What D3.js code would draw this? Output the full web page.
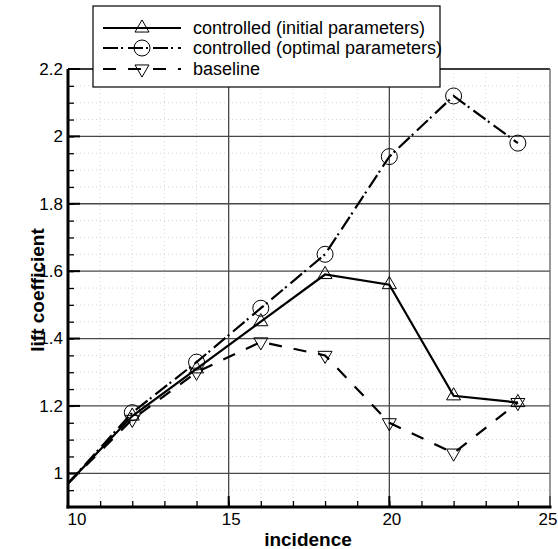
<!DOCTYPE html>
<html><head><meta charset="utf-8">
<script src="https://cdn.jsdelivr.net/npm/d3@7"></script>
<style>body{margin:0;background:#fff}svg{display:block}text{font-family:"Liberation Sans",Arial,sans-serif}</style>
</head><body><svg id="c" width="558" height="549"></svg>
<script>
const incidence = [10, 12, 14, 16, 18, 20, 22, 24];
const initialParams = [0.97, 1.17, 1.31, 1.45, 1.59, 1.56, 1.23, 1.21];
const optimalParams = [0.97, 1.18, 1.33, 1.49, 1.65, 1.94, 2.12, 1.98];
const baseline = [0.97, 1.16, 1.30, 1.39, 1.35, 1.15, 1.06, 1.21];
const seriesNames = ["controlled (initial parameters)", "controlled (optimal parameters)", "baseline"];
const xTicks = [10, 15, 20, 25];
const yTicks = [1, 1.2, 1.4, 1.6, 1.8, 2, 2.2];

const svg = d3.select("#c");
const L = 68, R = 550, T = 69, B = 507;
const x = d3.scaleLinear().domain([10, 25]).range([L, R]);
const y = d3.scaleLinear().domain([0.9, 2.2]).range([B, T]);

const yMinor = d3.range(1, 26).map(i => +(0.9 + i * 0.05).toFixed(2));
const xMinor = d3.range(11, 25);
const isMajorY = v => Math.abs(v * 5 - Math.round(v * 5)) < 1e-6;

// minor dotted grid
const g = svg.append("g");
xMinor.filter(v => v % 5 !== 0).forEach(v => {
  g.append("line").attr("x1", x(v)).attr("x2", x(v)).attr("y1", T).attr("y2", B)
   .attr("stroke", "#d4d4d4").attr("stroke-width", 1).attr("stroke-dasharray", "1,3");
});
yMinor.filter(v => !isMajorY(v)).forEach(v => {
  g.append("line").attr("x1", L).attr("x2", R).attr("y1", y(v)).attr("y2", y(v))
   .attr("stroke", "#d4d4d4").attr("stroke-width", 1).attr("stroke-dasharray", "1,3");
});
// major grid
[15, 20].forEach(v => g.append("line").attr("x1", x(v)).attr("x2", x(v)).attr("y1", T).attr("y2", B)
  .attr("stroke", "#484848").attr("stroke-width", 1.3));
yTicks.forEach(v => g.append("line").attr("x1", L).attr("x2", R).attr("y1", y(v)).attr("y2", y(v))
  .attr("stroke", "#484848").attr("stroke-width", 1.3));

// axes with inward ticks
const axL = svg.append("g").attr("transform", `translate(${L},0)`)
  .call(d3.axisRight(y).tickValues(yMinor).tickSize(6).tickFormat(""));
axL.select(".domain").remove();
axL.selectAll("line").attr("stroke", "#000").attr("stroke-width", 1.3);
const axL2 = svg.append("g").attr("transform", `translate(${L},0)`)
  .call(d3.axisLeft(y).tickValues(yTicks).tickSize(0).tickPadding(5).tickFormat(d3.format("")));
axL2.select(".domain").remove();
axL2.selectAll("text").attr("font-size", 17).attr("fill", "#000");
yTicks.forEach(v => svg.append("line").attr("x1", L).attr("x2", L + 12).attr("y1", y(v)).attr("y2", y(v)).attr("stroke", "#000").attr("stroke-width", 2));

const axB = svg.append("g").attr("transform", `translate(0,${B})`)
  .call(d3.axisTop(x).tickValues(xMinor).tickSize(6).tickFormat(""));
axB.select(".domain").remove();
axB.selectAll("line").attr("stroke", "#000").attr("stroke-width", 1.3);
const axB2 = svg.append("g").attr("transform", `translate(0,${B})`)
  .call(d3.axisBottom(x).tickValues(xTicks).tickSize(0).tickPadding(6).tickFormat(d3.format("")));
axB2.select(".domain").remove();
axB2.selectAll("text").attr("font-size", 17).attr("fill", "#000")
  .attr("text-anchor", d => d === 10 ? "start" : d === 25 ? "end" : "middle")
  .attr("dx", d => (d === 10 ? -1 : d === 25 ? 7 : 2));
xTicks.forEach(v => svg.append("line").attr("x1", x(v)).attr("x2", x(v)).attr("y1", B).attr("y2", B - 11).attr("stroke", "#000").attr("stroke-width", 2));

// frame
svg.append("line").attr("x1", L).attr("x2", R).attr("y1", T).attr("y2", T).attr("stroke", "#000").attr("stroke-width", 1.2);
svg.append("line").attr("x1", R).attr("x2", R).attr("y1", T).attr("y2", B).attr("stroke", "#777").attr("stroke-width", 1.5);
svg.append("line").attr("x1", L).attr("x2", L).attr("y1", T).attr("y2", B + 1.5).attr("stroke", "#000").attr("stroke-width", 3);
svg.append("line").attr("x1", L - 1.5).attr("x2", R + 1.5).attr("y1", B).attr("y2", B).attr("stroke", "#000").attr("stroke-width", 3);

// clip
svg.append("clipPath").attr("id", "clip").append("rect").attr("x", L).attr("y", T).attr("width", R - L).attr("height", B - T);
const plot = svg.append("g").attr("clip-path", "url(#clip)");

const dashes = [null, "15,3,2,5", "13,12"];
const allSeries = [initialParams, optimalParams, baseline];
const line = d3.line().x((d, i) => x(incidence[i])).y(d => y(d));
allSeries.forEach((s, k) => {
  plot.append("path").datum(s).attr("d", line).attr("fill", "none").attr("stroke", "#000")
    .attr("stroke-width", 2.2).attr("stroke-dasharray", dashes[k]);
});
function marker(sel, k, cx, cy) {
  if (k === 1) sel.append("circle").attr("cx", cx).attr("cy", cy).attr("r", 8).attr("fill", "none").attr("stroke", "#000").attr("stroke-width", 1);
  else {
    const sym = d3.symbol().type(d3.symbolTriangle).size(85);
    sel.append("path").attr("d", sym).attr("transform", `translate(${cx},${cy}) rotate(${k === 2 ? 180 : 0})`)
      .attr("fill", "none").attr("stroke", "#000").attr("stroke-width", 1);
  }
}
allSeries.forEach((s, k) => s.forEach((v, i) => { if (incidence[i] > 10) marker(plot, k, x(incidence[i]), y(v)); }));

// axis titles
svg.append("text").attr("x", 308).attr("y", 546).attr("text-anchor", "middle")
  .attr("font-size", 19).attr("font-weight", "bold").text("incidence");
svg.append("text").attr("transform", `translate(44,290) rotate(-90)`).attr("text-anchor", "middle")
  .attr("font-size", 19).attr("font-weight", "bold").text("lift coefficient");

// legend
const lg = svg.append("g");
lg.append("rect").attr("x", 93).attr("y", 6).attr("width", 347).attr("height", 81)
  .attr("fill", "#fff").attr("stroke", "#000").attr("stroke-width", 1.2);
const rowsY = [28, 48, 69];
seriesNames.forEach((n, k) => {
  lg.append("line").attr("x1", 103).attr("x2", 181).attr("y1", rowsY[k]).attr("y2", rowsY[k])
    .attr("stroke", "#000").attr("stroke-width", 2.2).attr("stroke-dasharray", dashes[k]);
  marker(lg, k, 142, rowsY[k]);
  lg.append("text").attr("x", 193).attr("y", rowsY[k]).attr("dy", "0.35em").attr("font-size", 18).text(n);
});
</script></body></html>
